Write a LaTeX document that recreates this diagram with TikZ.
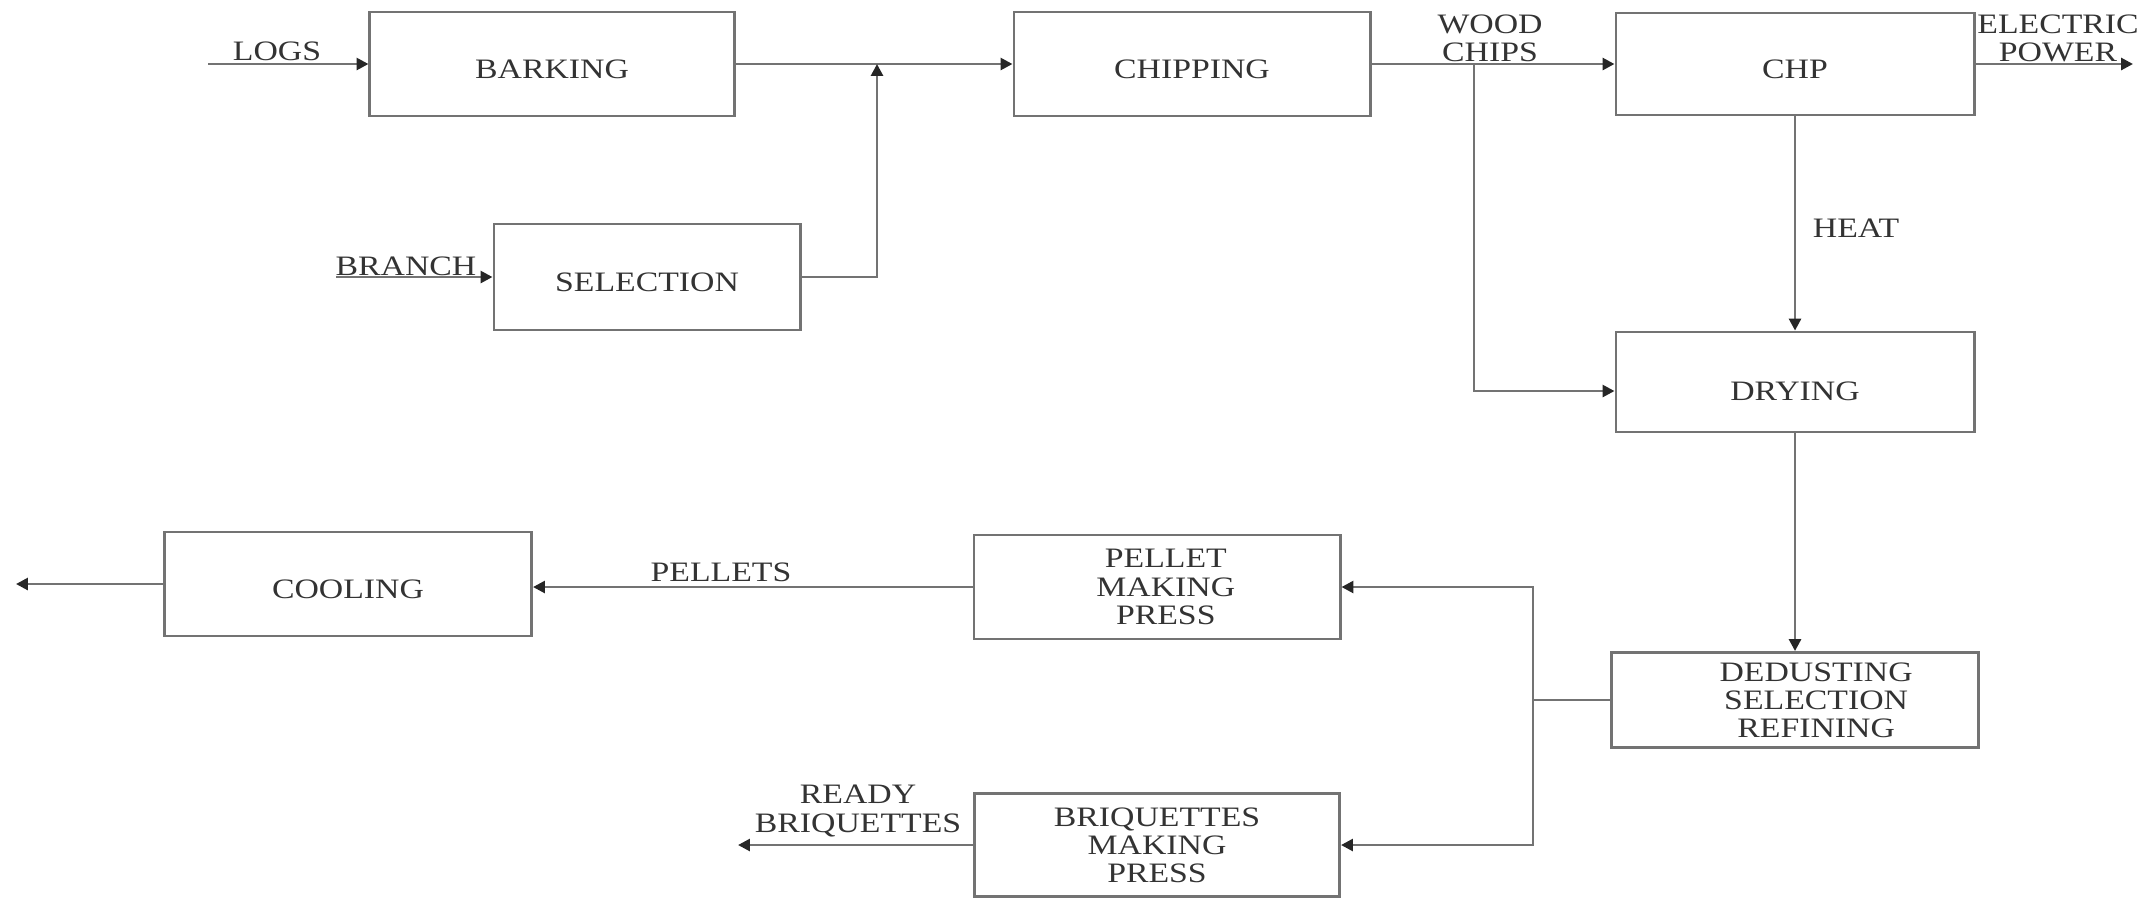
\documentclass[tikz,border=0pt]{standalone}
\usepackage{fontspec}
\setmainfont{Liberation Serif}[FakeStretch=1.2]
\usetikzlibrary{arrows.meta}
\begin{document}
\begin{tikzpicture}[x=0.01cm,y=-0.01cm,
  every node/.style={font=\fontsize{8pt}{8pt}\selectfont, text=black!80, inner sep=0pt},
  box/.style={draw=black!55, line width=0.8pt, text height=8.4pt, text depth=0pt},
  multi/.style={draw=black!55, line width=0.8pt, align=center},
  flow/.style={draw=black!55, line width=0.8pt, -{Triangle[length=3.4pt,width=3.4pt,color=black!85]}},
  plain/.style={draw=black!55, line width=0.8pt}]
\useasboundingbox (0,0) rectangle (2152,899);

% process boxes
\node[box, minimum width=3.64cm, minimum height=1.04cm] (barking) at (552,64) {BARKING};
\node[box, minimum width=3.06cm, minimum height=1.06cm] (selection) at (647,277) {SELECTION};
\node[box, minimum width=3.56cm, minimum height=1.04cm] (chipping) at (1192,64) {CHIPPING};
\node[box, minimum width=3.58cm, minimum height=1.02cm] (chp) at (1795,64) {CHP};
\node[box, minimum width=3.58cm, minimum height=1.00cm, text height=10.4pt] (drying) at (1795,382) {DRYING};
\node[multi, minimum width=3.67cm, minimum height=0.95cm] (dedusting) at (1795,700) {\hspace*{12pt}DEDUSTING\\\hspace*{12pt}SELECTION\\\hspace*{12pt}REFINING};
\node[multi, minimum width=3.66cm, minimum height=1.04cm] (pellet) at (1157,587) {\hspace*{5pt}PELLET\\\hspace*{5pt}MAKING\\\hspace*{5pt}PRESS};
\node[multi, minimum width=3.65cm, minimum height=1.03cm] (briq) at (1157,845) {BRIQUETTES\\MAKING\\PRESS};
\node[box, minimum width=3.67cm, minimum height=1.04cm] (cooling) at (348,584) {COOLING};

% free ends and junctions
\coordinate (logsin) at (208,64);
\coordinate (branchin) at (336,277);
\coordinate (join) at (877,64);
\coordinate (chipsplit) at (1474,64);
\coordinate (powerout) at (2133,64);
\coordinate (fork) at (1533,700);
\coordinate (coolout) at (16,584);
\coordinate (briqout) at (738,845);

% connectors
\draw[flow] (logsin) -- (barking.west);
\draw[flow] (branchin) -- (selection.west);
\draw[flow] (barking.east) -- (chipping.west);
\draw[flow] (selection.east) -| (join);
\draw[flow] (chipping.east) -- (chp.west);
\draw[flow] (chipsplit) |- ([yshift=-0.09cm]drying.west);
\draw[flow] (chp.east) -- (powerout);
\draw[flow] (chp.south) -- (drying.north);
\draw[flow] (drying.south) -- (dedusting.north);
\draw[plain] (dedusting.west) -- (dedusting.west -| fork);
\draw[flow] (fork) |- (pellet.east);
\draw[flow] (fork) |- (briq.east);
\draw[flow] (pellet.west) -- (pellet.west -| cooling.east);
\draw[flow] (cooling.west) -- (coolout);
\draw[flow] (briq.west) -- (briqout);

% labels
\node (logs) at (277,51) {LOGS};
\node (branch) at (406,266) {BRANCH};
\node[align=center] (woodchips) at (1490,38) {WOOD\\CHIPS};
\node[align=center] (power) at (2058,38) {ELECTRIC\\POWER};
\node (heat) at (1856,228) {HEAT};
\node (pellets) at (721,572) {PELLETS};
\node[align=center] (ready) at (858,811) {READY\\BRIQUETTES};
\end{tikzpicture}
\end{document}
